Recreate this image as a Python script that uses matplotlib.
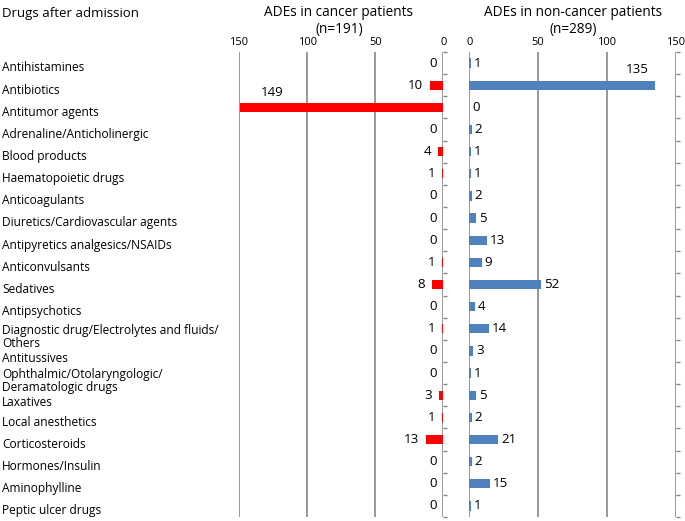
import numpy as np
import matplotlib
matplotlib.use('Agg')
import matplotlib.pyplot as plt
from matplotlib.transforms import blended_transform_factory, offset_copy

plt.rcParams['font.family'] = ['Open Sans', 'DejaVu Sans']

drugs = ['Antihistamines', 'Antibiotics', 'Antitumor agents', 'Adrenaline/Anticholinergic',
         'Blood products', 'Haematopoietic drugs', 'Anticoagulants',
         'Diuretics/Cardiovascular agents', 'Antipyretics analgesics/NSAIDs', 'Anticonvulsants',
         'Sedatives', 'Antipsychotics', 'Diagnostic drug/Electrolytes and fluids/\nOthers',
         'Antitussives', 'Ophthalmic/Otolaryngologic/\nDeramatologic drugs', 'Laxatives',
         'Local anesthetics', 'Corticosteroids', 'Hormones/Insulin', 'Aminophylline',
         'Peptic ulcer drugs']
cancer = [0, 10, 149, 0, 4, 1, 0, 0, 0, 1, 8, 0, 1, 0, 0, 3, 1, 13, 0, 0, 0]
noncancer = [1, 135, 0, 2, 1, 1, 2, 5, 13, 9, 52, 4, 14, 3, 1, 5, 2, 21, 2, 15, 1]
ticks = [0, 50, 100, 150]

red = '#FF0000'
blue = '#4F81BD'
grid = '#868686'
fs = 8.6
vfs = 9.6

fig = plt.figure(figsize=(6.85, 5.21), dpi=100)
axL = fig.add_axes([239/685, 1 - 517/521, 204.4/685, 465/521])
axR = fig.add_axes([469.3/685, 1 - 517/521, 206.4/685, 465/521])

y = np.arange(len(drugs))

for ax in (axL, axR):
    ax.set_ylim(len(drugs) - 0.5, -0.5)
    ax.set_xlim(0, 150)
    ax.set_xticks(ticks)
    ax.xaxis.tick_top()
    ax.tick_params(axis='x', length=0, pad=3, labelsize=8)
    for s in ax.spines.values():
        s.set_visible(False)
    ax.grid(axis='x', color=grid, linewidth=1.2)
    ax.set_axisbelow(True)
    ax.set_yticks(np.arange(len(drugs) + 1) - 0.5, minor=True)
    ax.set_yticks([])
    ax.yaxis.tick_right()
    ax.tick_params(axis='y', which='minor', length=3, color=grid, width=1, direction='out')

axL.invert_xaxis()

axL.barh(y, cancer, height=0.42, color=red)
axR.barh(y, noncancer, height=0.42, color=blue)

for i, v in enumerate(cancer):
    if v > 100:
        axL.annotate(str(v), (v, i), xytext=(23, 11), textcoords='offset points',
                     ha='center', va='center', fontsize=vfs)
    else:
        axL.annotate(str(v), (v, i), xytext=(-5, 0), textcoords='offset points',
                     ha='right', va='center', fontsize=vfs)

for i, v in enumerate(noncancer):
    if v > 100:
        axR.annotate(str(v), (v, i), xytext=(-13, 11), textcoords='offset points',
                     ha='center', va='center', fontsize=vfs)
    else:
        axR.annotate(str(v), (v, i), xytext=(2, 0), textcoords='offset points',
                     ha='left', va='center', fontsize=vfs)

# category names at the far left
base = blended_transform_factory(fig.transFigure, axL.transData)
prev_multi = False
for i, name in enumerate(drugs):
    multi = '\n' in name
    if multi:
        dy = -5.8
    elif prev_multi:
        dy = -5.6
    else:
        dy = -3.5
    tr = offset_copy(base, fig=fig, x=0, y=dy, units='points')
    axL.text(2/685, i, name, transform=tr, ha='left', va='center',
             fontsize=fs, linespacing=1.05)
    prev_multi = multi

fig.text(2/685, 1 - 13/521, 'Drugs after admission', ha='left', va='center', fontsize=9.5)
fig.text(339/685, 1 - 21/521, 'ADEs in cancer patients\n(n=191)', ha='center', va='center',
         fontsize=9.8, linespacing=1.2)
fig.text(573/685, 1 - 21/521, 'ADEs in non-cancer patients\n(n=289)', ha='center', va='center',
         fontsize=9.8, linespacing=1.2)

fig.savefig('out.png', dpi=100)
